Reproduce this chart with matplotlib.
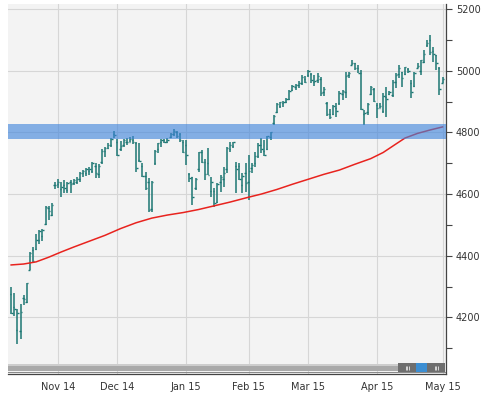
import matplotlib
matplotlib.use("Agg")
import matplotlib.pyplot as plt
from matplotlib.patches import Rectangle
from matplotlib.ticker import MultipleLocator

# daily bars, one per trading day (Oct 13 2014 .. May 1 2015)
highs = [4300, 4280, 4226, 4243, 4272, 4312, 4413, 4429, 4470, 4483,
         4486, 4561, 4561, 4572, 4638, 4649, 4640, 4646, 4640, 4646,
         4648, 4654, 4673, 4678, 4686, 4687, 4703, 4700, 4697, 4745,
         4754, 4765, 4781, 4805, 4778, 4772, 4779, 4781, 4786, 4789,
         4770, 4767, 4702, 4673, 4651, 4644, 4743, 4767, 4778, 4778,
         4781, 4797, 4810, 4806, 4799, 4776, 4776, 4667, 4657, 4651,
         4738, 4743, 4713, 4749, 4657, 4619, 4635, 4662, 4689, 4752,
         4770, 4770, 4705, 4700, 4667, 4700, 4727, 4700, 4738, 4765,
         4781, 4776, 4789, 4803, 4857, 4895, 4900, 4903, 4911, 4938,
         4954, 4957, 4968, 4987, 4983, 5003, 4992, 4987, 4992, 4981,
         4949, 4900, 4875, 4889, 4897, 4933, 4938, 4997, 4997, 5035,
         5027, 5019, 5003, 4873, 4895, 4950, 4943, 4895, 4895, 4927,
         4949, 4933, 4970, 4992, 5019, 4997, 5014, 5008, 4970, 4997,
         5025, 5035, 5068, 5100, 5117, 5079, 5052, 5014, 4981]
lows = [4211, 4205, 4115, 4128, 4240, 4247, 4353, 4381, 4418, 4438,
        4449, 4500, 4516, 4529, 4615, 4621, 4592, 4605, 4605, 4602,
        4630, 4633, 4640, 4657, 4660, 4662, 4670, 4651, 4651, 4698,
        4721, 4745, 4754, 4783, 4724, 4741, 4752, 4759, 4768, 4762,
        4673, 4705, 4657, 4613, 4543, 4543, 4694, 4732, 4754, 4765,
        4765, 4781, 4789, 4781, 4770, 4732, 4694, 4640, 4565, 4613,
        4673, 4700, 4646, 4662, 4589, 4559, 4570, 4608, 4624, 4670,
        4738, 4749, 4603, 4646, 4602, 4608, 4581, 4667, 4689, 4716,
        4732, 4722, 4743, 4776, 4824, 4862, 4878, 4882, 4895, 4906,
        4933, 4938, 4943, 4954, 4960, 4981, 4960, 4951, 4960, 4918,
        4918, 4853, 4843, 4857, 4851, 4889, 4905, 4911, 4976, 5019,
        5003, 4992, 4873, 4824, 4857, 4920, 4900, 4846, 4878, 4862,
        4851, 4922, 4916, 4943, 4976, 4949, 4987, 4992, 4911, 4949,
        5008, 4987, 5025, 5079, 5052, 5030, 5003, 4922, 4960]
opens = [4276, 4232, 4160, 4155, 4264, 4250, 4355, 4420, 4422, 4450,
         4465, 4503, 4555, 4533, 4630, 4634, 4618, 4630, 4612, 4640,
         4635, 4640, 4648, 4668, 4668, 4675, 4675, 4690, 4665, 4705,
         4740, 4750, 4760, 4795, 4770, 4745, 4760, 4768, 4770, 4775,
         4765, 4710, 4690, 4660, 4640, 4550, 4700, 4745, 4770, 4775,
         4768, 4785, 4795, 4800, 4795, 4770, 4760, 4665, 4655, 4620,
         4680, 4735, 4705, 4700, 4610, 4610, 4575, 4640, 4650, 4680,
         4745, 4755, 4690, 4690, 4630, 4670, 4640, 4685, 4700, 4725,
         4760, 4740, 4745, 4785, 4830, 4865, 4885, 4895, 4900, 4910,
         4938, 4948, 4955, 4960, 4975, 4985, 4990, 4965, 4970, 4975,
         4930, 4895, 4860, 4860, 4880, 4895, 4925, 4930, 4985, 5020,
         5025, 5010, 4992, 4860, 4865, 4925, 4940, 4890, 4880, 4870,
         4915, 4925, 4920, 4965, 4990, 4995, 4990, 5005, 4960, 4950,
         5010, 5000, 5030, 5085, 5100, 5065, 5050, 5010, 4962]
closes = [4214, 4227, 4215, 4217, 4258, 4310, 4410, 4383, 4452, 4480,
          4484, 4558, 4545, 4566, 4630, 4638, 4622, 4620, 4636, 4632,
          4645, 4650, 4668, 4675, 4680, 4680, 4700, 4670, 4692, 4740,
          4750, 4758, 4780, 4792, 4728, 4755, 4774, 4770, 4780, 4768,
          4685, 4708, 4660, 4620, 4547, 4640, 4740, 4765, 4775, 4768,
          4775, 4795, 4805, 4790, 4775, 4736, 4726, 4652, 4592, 4648,
          4736, 4704, 4664, 4661, 4639, 4570, 4634, 4654, 4667, 4750,
          4758, 4768, 4681, 4650, 4660, 4635, 4676, 4695, 4725, 4760,
          4745, 4727, 4787, 4800, 4855, 4892, 4898, 4900, 4908, 4935,
          4950, 4955, 4960, 4980, 4965, 5000, 4970, 4968, 4982, 4927,
          4942, 4859, 4849, 4885, 4871, 4929, 4935, 4982, 4992, 5026,
          5010, 4994, 4876, 4863, 4891, 4947, 4901, 4880, 4886, 4917,
          4910, 4930, 4965, 4988, 5010, 4977, 5011, 5000, 4932, 4994,
          5015, 5035, 5056, 5092, 5060, 5055, 5024, 4941, 4975]

# moving average read every few bars
ma_idx = [0, 4, 8, 12, 16, 20, 25, 30, 35, 40, 45, 50, 55, 60, 65, 70,
          76, 80, 85, 90, 95, 100, 105, 110, 115, 119, 123, 126, 130, 134, 138]
ma_vals = [4370, 4373, 4380, 4395, 4412, 4428, 4447, 4466, 4488, 4507,
           4522, 4532, 4540, 4550, 4562, 4574, 4590, 4600, 4615, 4632,
           4648, 4664, 4678, 4697, 4715, 4735, 4762, 4782, 4797, 4808, 4818]

month_idx = [15, 34, 56, 76, 95, 117, 138]
month_labels = ["Nov 14", "Dec 14", "Jan 15", "Feb 15", "Mar 15", "Apr 15", "May 15"]

band_low, band_high = 4779, 4828

W, H = 488, 396
fig = plt.figure(figsize=(W / 100, H / 100), dpi=100)
ax = fig.add_axes([8 / W, (H - 374) / H, (446 - 8) / W, (374 - 4) / H])
ax.set_facecolor("#f3f3f3")

x = list(range(len(highs)))
bar_col = "#1c7673"
ax.vlines(x, lows, highs, color=bar_col, lw=1.1, zorder=3)
ax.hlines(opens, [i - 0.45 for i in x], x, color=bar_col, lw=1.0, zorder=3)
ax.hlines(closes, x, [i + 0.45 for i in x], color=bar_col, lw=1.0, zorder=3)

ax.plot(ma_idx, ma_vals, color="#e8231e", lw=1.1, zorder=4)

ax.axhspan(band_low, band_high, color="#3f84dc", alpha=0.62, lw=0, zorder=5)

ax.set_xlim(-1.0, 139.1)
ax.set_ylim(4016, 5217)

ax.set_xticks(month_idx)
ax.set_xticklabels(month_labels)
ax.yaxis.set_major_locator(MultipleLocator(200))
ax.yaxis.set_minor_locator(MultipleLocator(100))
ax.yaxis.tick_right()
ax.tick_params(axis="x", length=0, pad=6, labelsize=7, labelcolor="#333333")
ax.tick_params(axis="y", which="both", length=4, width=0.8, color="#444444",
               pad=3, labelsize=7, labelcolor="#333333")
ax.set_axisbelow(True)
ax.grid(True, color="#d6d6d6", lw=0.8)

for side in ["left", "top"]:
    ax.spines[side].set_visible(False)
ax.spines["right"].set_color("#444444")
ax.spines["bottom"].set_color("#444444")
ax.spines["right"].set_linewidth(0.9)
ax.spines["bottom"].set_linewidth(0.9)

# scrollbar along the bottom
sb = fig.add_axes([8 / W, (H - 373) / H, (446 - 8) / W, 10 / H])
sb.set_xlim(8, 446)
sb.set_ylim(0, 1)
sb.axis("off")
sb.add_patch(Rectangle((8, 0.2), 390, 0.75, color="#a9a9a9", lw=0))
sb.add_patch(Rectangle((8, 0.75), 390, 0.2, color="#cdcdcd", lw=0))
sb.add_patch(Rectangle((8, 0.0), 438, 0.08, color="#8a8a8a", lw=0))
sb.add_patch(Rectangle((398, 0.12), 18, 0.86, color="#6e6e6e", lw=0))
sb.add_patch(Rectangle((416, 0.12), 11, 0.86, color="#3c8ed2", lw=0))
sb.add_patch(Rectangle((427, 0.12), 18, 0.86, color="#6e6e6e", lw=0))
for cx in [407, 436]:
    sb.vlines([cx - 1.5, cx, cx + 1.5], 0.35, 0.75, color="#e8e8e8", lw=0.6)

fig.savefig("out.png", dpi=100)
